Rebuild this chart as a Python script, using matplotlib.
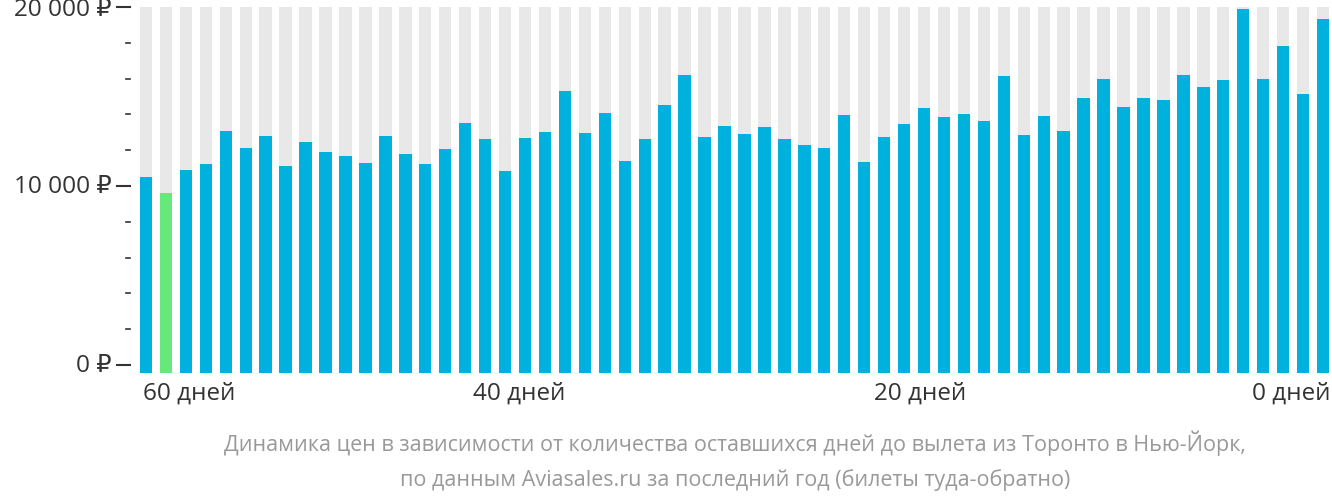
import matplotlib
matplotlib.use("Agg")
import matplotlib.pyplot as plt
import numpy as np
from matplotlib.transforms import offset_copy

prices = [10500, 9600, 10900, 11200, 13050, 12100, 12770, 11100, 12440, 11880,
          11650, 11260, 12770, 11760, 11200, 12040, 13500, 12600, 10810, 12660,
          13000, 15290, 12940, 14060, 11370, 12600, 14510, 16190, 12720, 13330,
          12890, 13280, 12600, 12270, 12100, 13950, 11320, 12720, 13450, 14340,
          13840, 14010, 13610, 16130, 12830, 13890, 13050, 14900, 15970, 14400,
          14900, 14790, 16190, 15520, 15910, 19890, 15970, 17820, 15130, 19330]
min_index = 1
x_labels = ["60 дней", "40 дней", "20 дней", "0 дней"]
x_label_pos = [2.15, 18.7, 38.8, 57.4]
y_major = [0, 10000, 20000]
y_major_labels = ["0 ₽", "10 000 ₽", "20 000 ₽"]

plt.rcParams["font.family"] = ["Open Sans", "DejaVu Sans"]
fig = plt.figure(figsize=(13.32, 5.02), dpi=100)
ax = fig.add_axes([137/1332, 1-374/502, 1-137/1332, 366/502])
base = -450
x = np.arange(len(prices))
ax.bar(x, [20000-base]*len(prices), bottom=base, width=0.62, color="#e8e8e8")
colors = ["#66e87a" if i == min_index else "#00b1dd" for i in range(len(prices))]
ax.bar(x, np.array(prices)-base, bottom=base, width=0.62, color=colors)
ax.set_xlim(-0.45, len(prices)-0.55)
ax.set_ylim(base, 20000)
ax.axis("off")
trans = ax.get_yaxis_transform()
for v in range(0, 20001, 2000):
    if v in y_major:
        ax.plot([-0.017, -0.006], [v, v], transform=trans, color="#333333", lw=1.5, clip_on=False)
        t = offset_copy(trans, fig=fig, y=-2 if v == 20000 else 0, units="dots")
        ax.text(-0.021, v, y_major_labels[y_major.index(v)], transform=t, ha="right",
                va="center", fontsize=17.5, color="#333333")
    else:
        ax.plot([-0.009, -0.006], [v, v], transform=trans, color="#333333", lw=1.2, clip_on=False)
for p, l in zip(x_label_pos, x_labels):
    ax.text(p, -0.02, l, transform=ax.get_xaxis_transform(), ha="center", va="top",
            fontsize=17.5, color="#333333")
fig.text(735/1332, 1-443/502, "Динамика цен в зависимости от количества оставшихся дней до вылета из Торонто в Нью-Йорк,",
         ha="center", va="center", fontsize=15.5, color="#999999")
fig.text(735/1332, 1-480/502, "по данным Aviasales.ru за последний год (билеты туда-обратно)",
         ha="center", va="center", fontsize=15.5, color="#999999")
fig.savefig("out.png", dpi=100)
